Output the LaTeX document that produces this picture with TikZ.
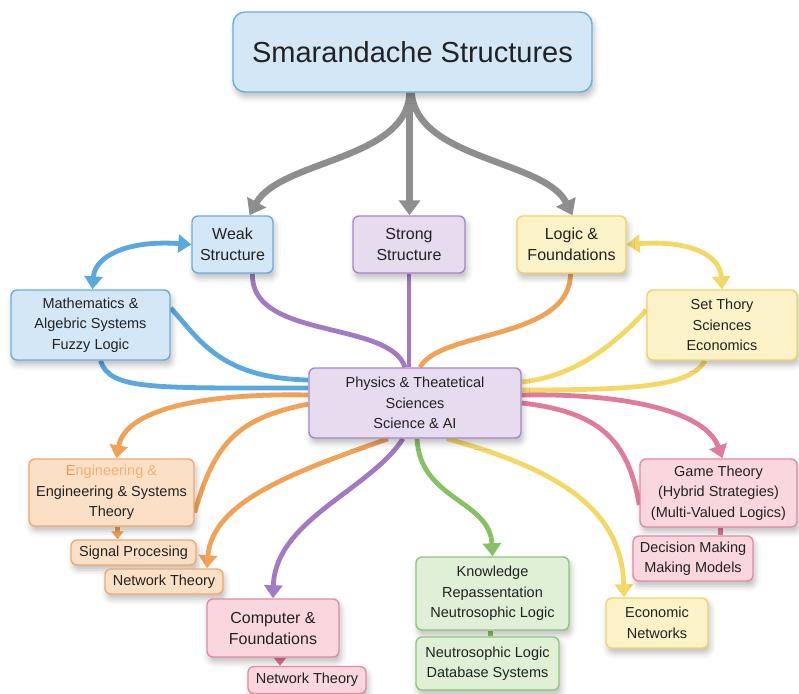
\documentclass[tikz,border=0pt]{standalone}
\usepackage{fontspec}
\setmainfont{Liberation Sans}
\usetikzlibrary{arrows.meta,shadows.blur,backgrounds}

\definecolor{txt}{HTML}{222222}
\definecolor{blueL}{HTML}{D3E7F7}
\definecolor{blueD}{HTML}{68AEE0}
\definecolor{blueLn}{HTML}{5BA8DF}
\definecolor{purL}{HTML}{E7DBF0}
\definecolor{purD}{HTML}{A886C8}
\definecolor{purLn}{HTML}{A27AC4}
\definecolor{yelL}{HTML}{FCF2C8}
\definecolor{yelD}{HTML}{F0D468}
\definecolor{yelLn}{HTML}{F3D865}
\definecolor{oraL}{HTML}{FCE0C6}
\definecolor{oraD}{HTML}{F1AA6E}
\definecolor{oraLn}{HTML}{F0A257}
\definecolor{pinL}{HTML}{FAD7DF}
\definecolor{pinD}{HTML}{E48AA2}
\definecolor{pinLn}{HTML}{E07B9A}
\definecolor{grnL}{HTML}{DFF0D6}
\definecolor{grnD}{HTML}{8FC777}
\definecolor{grnLn}{HTML}{86C166}
\definecolor{grayLn}{HTML}{8E8E8E}

\tikzset{
  box/.style={rounded corners=6pt, line width=1.4pt, align=center, inner sep=0pt,
    text=txt, font=\fontsize{14.5}{20.5}\selectfont,
    blur shadow={shadow xshift=2pt, shadow yshift=-5pt, shadow blur radius=6pt, shadow opacity=26}},
  bluebox/.style={box, draw=blueD, fill=blueL},
  purbox/.style={box, draw=purD, fill=purL},
  yelbox/.style={box, draw=yelD, fill=yelL},
  orabox/.style={box, draw=oraD, fill=oraL},
  pinbox/.style={box, draw=pinD, fill=pinL},
  grnbox/.style={box, draw=grnD, fill=grnL},
  bigtext/.style={font=\fontsize{16}{21}\selectfont},
  link/.style={line width=4.8pt},
  headtip/.style={-{Triangle[width=18pt,length=13pt]}},
  bothtip/.style={{Triangle[width=18pt,length=13pt]}-{Triangle[width=18pt,length=13pt]}},
  smalltip/.style={-{Triangle[width=12pt,length=8pt]}},
  graytip/.style={-{Triangle[width=21pt,length=15pt]}},
}

\begin{document}
\begin{tikzpicture}[x=1pt, y=-1pt]
\useasboundingbox (0,0) rectangle (799,693);

% ---- boxes ----
\node[bluebox, rounded corners=12pt, minimum width=359pt, minimum height=80pt,
      font=\fontsize{29}{34}\selectfont] (title) at (412.5,52) {Smarandache Structures};

\node[bluebox, bigtext, minimum width=81pt, minimum height=57pt] (weak) at (232.5,244.5) {Weak\\Structure};
\node[purbox, bigtext, minimum width=112pt, minimum height=57pt] (strong) at (409,244.5) {Strong\\Structure};
\node[yelbox, bigtext, minimum width=109pt, minimum height=57pt] (logic) at (571.5,244.5) {Logic \&\\Foundations};

\node[bluebox, minimum width=159pt, minimum height=70pt] (math) at (90.5,325) {Mathematics \&\\Algebric Systems\\Fuzzy Logic};
\node[yelbox, minimum width=150pt, minimum height=70pt] (set) at (722,325) {Set Thory\\Sciences\\Economics};

\node[purbox, minimum width=212pt, minimum height=70pt] (physics) at (415,403) {Physics \& Theatetical\\Sciences\\Science \& AI};

\node[orabox, minimum width=165pt, minimum height=67pt] (eng) at (111.5,492.5)
  {\textcolor{oraLn!70!brown}{E}\textcolor{oraLn!85}{ngineering \&}\\Engineering \& Systems\\Theory};
\node[orabox, minimum width=125pt, minimum height=25pt] (signal) at (133.5,552.5) {Signal Procesing};
\node[orabox, minimum width=118pt, minimum height=25pt] (netL) at (164,581.5) {Network Theory};

\node[pinbox, bigtext, minimum width=132pt, minimum height=58pt] (comp) at (273,628) {Computer \&\\Foundations};
\node[pinbox, minimum width=118pt, minimum height=27pt] (netB) at (307,680) {Network Theory};

\node[grnbox, minimum width=153pt, minimum height=73pt] (know) at (492.5,593.5) {Knowledge\\Repassentation\\Neutrosophic Logic};
\node[grnbox, minimum width=143pt, minimum height=53pt] (neutro) at (487.5,663.5) {Neutrosophic Logic\\Database Systems};

\node[pinbox, minimum width=157pt, minimum height=68pt] (game) at (718.5,493) {Game Theory\\(Hybrid Strategies)\\(Multi-Valued Logics)};
\node[pinbox, minimum width=120pt, minimum height=45pt] (decision) at (693,558.5) {Decision Making\\Making Models};
\node[yelbox, minimum width=102pt, minimum height=50pt] (econ) at (657,623) {Economic\\Networks};

% ---- connectors ----
\begin{scope}[on background layer]
  % from the title to the three structures
  \draw[link, grayLn, line width=6.5pt, graytip]
    ([xshift=-3pt]title.south) .. controls (408,160) and (280,160) .. ([xshift=17pt]weak.north);
  \draw[link, grayLn, line width=6.5pt, graytip]
    ([xshift=-3pt]title.south) -- ([xshift=-3pt]title.south |- strong.north);
  \draw[link, grayLn, line width=6.5pt, graytip]
    ([xshift=-1pt]title.south) .. controls (417,160) and (545,160) .. ([xshift=1pt]logic.north);

  % two-way links on the sides
  \draw[link, blueLn, bothtip]
    (weak.west) .. controls (130,240) and (95,255) .. ([xshift=2pt]math.north);
  \draw[link, yelLn, bothtip]
    (logic.east) .. controls (690,240) and (720,255) .. (set.north);

  % into the central box
  \draw[link, purLn] ([xshift=20pt]weak.south) .. controls (250,340) and (390,320) .. ([xshift=-10pt]physics.north);
  \draw[link, purLn] (strong.south) -- (strong.south |- physics.north);
  \draw[link, oraLn] ([xshift=-1pt]logic.south) .. controls (570,340) and (440,330) .. ([xshift=5pt]physics.north);
  \draw[link, blueLn] ([yshift=17pt]math.east) .. controls (200,340) and (220,378) .. ([yshift=23pt]physics.west);
  \draw[link, blueLn] ([xshift=10pt]math.south) .. controls (110,390) and (150,388) .. ([yshift=15pt]physics.west);
  \draw[link, yelLn] ([yshift=15pt]set.west) .. controls (610,350) and (570,377) .. ([yshift=21pt]physics.east);
  \draw[link, yelLn] ([xshift=-17pt]set.south) .. controls (690,386) and (640,390) .. ([yshift=13pt]physics.east);

  % out of the central box
  \draw[link, pinLn, headtip] ([yshift=8pt]physics.east) .. controls (620,393) and (705,410) .. ([xshift=4pt]game.north);
  \draw[link, pinLn] (physics.east) .. controls (600,412) and (628,440) .. ([yshift=-12pt]game.west);
  \draw[link, oraLn, headtip] ([yshift=8pt]physics.west) .. controls (200,393) and (125,410) .. ([xshift=5pt]eng.north);
  \draw[link, oraLn] ([yshift=-1pt]physics.west) .. controls (240,418) and (215,440) .. ([yshift=-20pt]eng.east);
  \draw[link, oraLn, headtip] ([xshift=-27pt]physics.south) .. controls (300,470) and (212,500) .. ([xshift=43pt]netL.north);
  \draw[link, purLn, headtip] ([xshift=-12pt]physics.south) .. controls (370,490) and (275,520) .. (comp.north);
  \draw[link, grnLn, headtip] ([xshift=2pt]physics.south) .. controls (420,500) and (490,500) .. (know.north);
  \draw[link, yelLn, headtip] ([xshift=32pt]physics.south) .. controls (560,470) and (622,510) .. ([xshift=-33pt]econ.north);

  % short links between stacked boxes
  \draw[link, oraLn, smalltip] ([xshift=6pt]eng.south) -- ([xshift=6pt]eng.south |- signal.north);
  \draw[link, pinLn, smalltip] ([xshift=7pt]comp.south) -- ([xshift=7pt]comp.south |- netB.north);
  \draw[link, grnLn] ([xshift=-2pt]know.south) -- ([xshift=-2pt]know.south |- neutro.north);
  \draw[link, pinLn] ([xshift=2pt]game.south) -- ([xshift=2pt]game.south |- decision.north);
\end{scope}
\end{tikzpicture}
\end{document}
